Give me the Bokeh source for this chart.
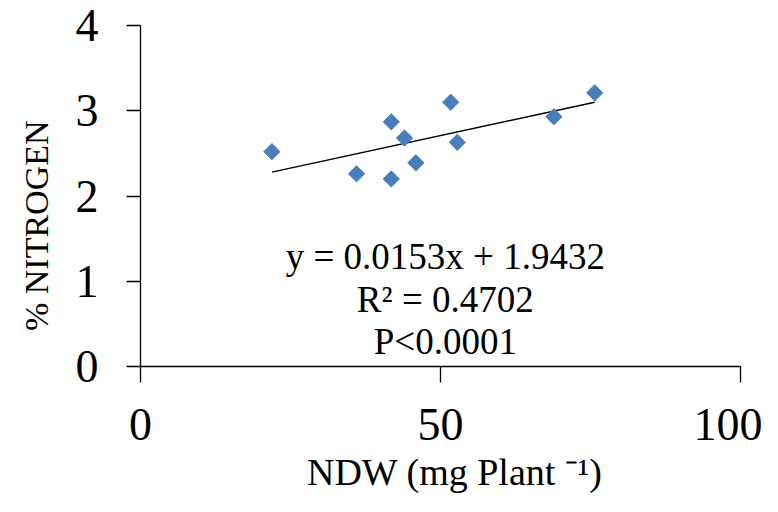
from bokeh.plotting import figure
from bokeh.models import Range1d, FixedTicker
from bokeh.embed import file_html
from bokeh.resources import INLINE
from bokeh.core.properties import value
import numpy as np

# Data
ndw = [21.9, 36.0, 41.8, 41.8, 44.0, 45.9, 51.7, 52.8, 68.9, 75.7]
nitrogen = [2.52, 2.26, 2.87, 2.20, 2.68, 2.39, 3.10, 2.63, 2.93, 3.21]
trend_x = [21.9, 75.7]
trend_y = [2.28, 3.10]
x_ticks = [0, 50, 100]
y_ticks = [0, 1, 2, 3, 4]
eq_lines = ["y = 0.0153x + 1.9432", "R\u00b2 = 0.4702", "P<0.0001"]
eq_x = [50.8, 50.8, 50.8]
eq_y = [1.29, 0.785, 0.29]
NB = "\u00a0"
x_title = NB * 3 + "NDW (mg Plant \u207b\u00b9)"
y_title = "% NITROGEN" + NB * 7

FONT = "Liberation Serif"

p = figure(width=762, height=496, output_backend="svg", toolbar_location=None,
           x_range=Range1d(0, 100), y_range=Range1d(0, 4),
           min_border_left=140, min_border_right=22, min_border_top=25,
           min_border_bottom=130)
p.outline_line_color = None
p.grid.visible = False
p.background_fill_color = "white"

for ax in (p.xaxis[0], p.yaxis[0]):
    ax.axis_line_color = "black"
    ax.axis_line_width = 1.3
    ax.major_tick_line_color = "black"
    ax.major_tick_line_width = 1.3
    ax.major_tick_in = 0
    ax.minor_tick_line_color = None
    ax.major_label_text_font = FONT
    ax.major_label_text_color = "black"
    ax.axis_label_text_font = FONT
    ax.axis_label_text_font_style = "normal"
    ax.axis_label_text_color = "black"

p.xaxis.ticker = FixedTicker(ticks=x_ticks)
p.yaxis.ticker = FixedTicker(ticks=y_ticks)
p.xaxis.major_tick_out = 16
p.yaxis.major_tick_out = 14
p.xaxis.major_label_text_font_size = "46px"
p.yaxis.major_label_text_font_size = "46px"
p.xaxis.major_label_standoff = 26
p.yaxis.major_label_standoff = 28
p.xaxis.axis_label = x_title
p.yaxis.axis_label = y_title
p.xaxis.axis_label_text_font_size = "38px"
p.yaxis.axis_label_text_font_size = "34px"
p.xaxis.axis_label_standoff = 8
p.yaxis.axis_label_standoff = 18

p.line(trend_x, trend_y, line_color="black", line_width=1.5)
p.scatter(ndw, nitrogen, marker="square", size=11.5, angle=np.pi / 4,
          fill_color="#4A7EBB", line_color="#4A7EBB")

p.text(x=eq_x, y=eq_y, text=eq_lines, text_font=value(FONT),
       text_font_size="37px", text_align="center", text_baseline="alphabetic",
       text_color="black")

open("out.html", "w").write(file_html(p, INLINE))
